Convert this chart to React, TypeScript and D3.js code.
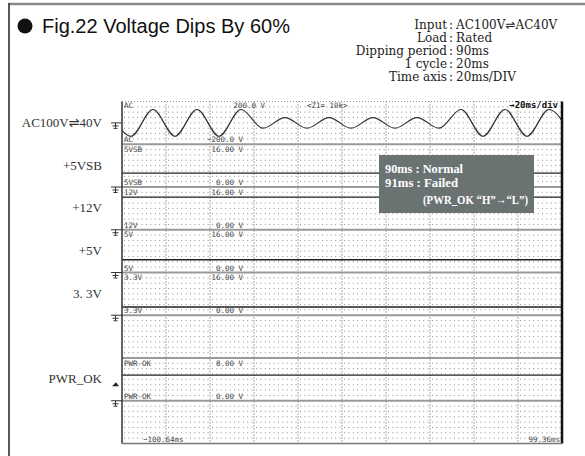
import React from "react";
import * as d3 from "d3";

const W = 585;
const H = 456;

// AC input waveform: extremes (time ms, volts)
const acTimes = [-106.55, -96.55, -86.55, -76.55, -66.55, -56.55, -46.55, -36.55, -26.55, -16.55, -6.55, 3.45, 13.45, 23.45, 33.45, 43.45, 53.45, 63.45, 73.45, 83.45, 93.45, 103.45];
const acVolts = [125, -125, 125, -125, 125, -125, 125, -50, 50, -50, 50, -50, 50, -50, 50, -50, 125, -125, 125, -125, 125, -125];

// DC channels
const dcNames = ["5VSB", "12V", "5V", "3.3V", "PWR-OK"];
const dcLevels = [5.2, 12.2, 4.8, 3.1, 4.8];
const dcFullScale = [16, 16, 16, 16, 8];
const dcDivision = [1, 2, 3, 4, 6];
const dcTopLabels = ["16.00 V", "16.00 V", "16.00 V", "16.00 V", "8.00 V"];
const dcBottomLabels = ["0.00 V", "0.00 V", "0.00 V", "0.00 V", "0.00 V"];
const triggerLevel = 3;

const sideLabels = ["AC100V\u21CC40V", "+5VSB", "+12V", "+5V", "3. 3V", "PWR_OK"];
const sideDivisions = [0, 1, 2, 3, 4, 6];

const infoKeys = ["Input", "Load", "Dipping period", "1 cycle", "Time axis"];
const infoValues = ["AC100V\u21CCAC40V", "Rated", "90ms", "20ms", "20ms/DIV"];
const noteLines = ["90ms : Normal", "91ms : Failed", "(PWR_OK \u201CH\u201D\u2192\u201CL\u201D)"];
const noteWidths = [78, 73, 105];

const timeDomain = [-100.64, 99.36];
const timeLabels = ["\u2212100.64ms", "99.36ms"];
const acRange = [-200, 200];
const acLabels = ["200.0 V", "\u2212200.0 V"];

const L = 122, R = 562, T = 101.5, B = 443.5;
const monoFont = "'DejaVu Sans Mono', monospace";
const serif = "'Liberation Serif', serif";

function Ground({ y }: { y: number }) {
  return (
    <g stroke="#333" strokeWidth={1} fill="none">
      <line x1={111} x2={L} y1={y} y2={y} />
      <line x1={115.5} x2={115.5} y1={y} y2={y + 5} />
      <line x1={112.5} x2={118.5} y1={y + 3} y2={y + 3} />
      <line x1={113.5} x2={117.5} y1={y + 5.5} y2={y + 5.5} />
    </g>
  );
}

function withHarpoon(s: string) {
  const parts = s.split("\u21CC");
  if (parts.length === 1) return s;
  return (
    <>
      {parts[0]}
      <tspan fontFamily="'DejaVu Sans', sans-serif">{"\u21CC"}</tspan>
      {parts[1]}
    </>
  );
}

export default function App() {
  const x = d3.scaleLinear().domain(timeDomain).range([L, R]);
  const yDiv = d3.scaleLinear().domain([0, 8]).range([T, B]);
  const yAC = d3.scaleLinear().domain(acRange).range([yDiv(1), yDiv(0)]);
  const dcScale = (i: number) =>
    d3.scaleLinear().domain([0, dcFullScale[i]]).range([yDiv(dcDivision[i] + 1), yDiv(dcDivision[i])]);

  const acPts = acTimes.map((t, i) => [x(t), yAC(acVolts[i])] as [number, number]);
  const acPath = d3.line().curve(d3.curveMonotoneX)(acPts) || "";

  const majorX = d3.range(1, 10).map((k) => L + ((R - L) / 10) * k);
  const rowYs: number[] = [];
  for (let k = 0; k < 8; k++) {
    for (let j = 1; j < 8; j++) rowYs.push(yDiv(k) + (yDiv(1) - yDiv(0)) * (j / 8));
  }

  return (
    <svg width={W} height={H} style={{ position: "absolute", left: 0, top: 0, background: "#fff" }}>
      <defs>
        <clipPath id="scope">
          <rect x={L} y={T} width={R - L} height={B - T} />
        </clipPath>
      </defs>
      {/* outer frame */}
      <line x1={9} x2={W} y1={4} y2={4} stroke="#8a8a8a" strokeWidth={2.5} />
      <line x1={9} x2={9} y1={3} y2={H} stroke="#222" strokeWidth={1.5} />

      {/* title */}
      <circle cx={25} cy={26} r={7.5} fill="#111" />
      <text x={42} y={33} fontFamily="'Liberation Sans', Arial, sans-serif" fontSize={20} fill="#111">
        Fig.22 Voltage Dips By 60%
      </text>

      {/* info block */}
      {infoKeys.map((k, i) => (
        <g key={k} fontFamily="'DejaVu Serif', serif" fontSize={12} fill="#222">
          <text x={447} y={28.5 + i * 13.2} textAnchor="end">{k}</text>
          <text x={451} y={28.5 + i * 13.2} textAnchor="middle">:</text>
          <text x={456} y={28.5 + i * 13.2}>{withHarpoon(infoValues[i])}</text>
        </g>
      ))}

      {/* side labels */}
      {sideLabels.map((s, i) => (
        <text key={s} x={102} y={(yDiv(sideDivisions[i]) + yDiv(sideDivisions[i] + 1)) / 2 + 4}
          textAnchor="end" fontFamily={serif} fontSize={13} fill="#333">{withHarpoon(s)}</text>
      ))}

      {/* grid dots */}
      <g clipPath="url(#scope)">
        {rowYs.map((y, i) => (
          <line key={"r" + i} x1={L + 2} x2={R} y1={y} y2={y} stroke="#8c8c8c" strokeWidth={1} strokeDasharray="1 3.4" />
        ))}
        {majorX.map((xx, i) => (
          <line key={"v" + i} x1={xx} x2={xx} y1={T} y2={B} stroke="#555" strokeWidth={1} strokeDasharray="1 2" />
        ))}
      </g>

      {/* division boundaries */}
      {d3.range(1, 8).map((k) => (
        <line key={"d" + k} x1={L} x2={R} y1={yDiv(k)} y2={yDiv(k)} stroke="#9a9a9a" strokeWidth={2} />
      ))}

      {/* DC traces */}
      {dcNames.map((n, i) => {
        const y = dcScale(i);
        return (
          <line key={n} x1={L} x2={R} y1={y(dcLevels[i])} y2={y(dcLevels[i])} stroke="#222" strokeWidth={1.4} />
        );
      })}

      {/* AC trace */}
      <path d={acPath} fill="none" stroke="#333" strokeWidth={1.2} clipPath="url(#scope)" />

      {/* scope frame */}
      <line x1={L} x2={L} y1={T} y2={B} stroke="#333" strokeWidth={1.5} />
      <line x1={R} x2={R} y1={T} y2={B} stroke="#111" strokeWidth={2.5} />
      <line x1={L} x2={R} y1={B} y2={B} stroke="#777" strokeWidth={1.5} />
      <line x1={L} x2={R} y1={T} y2={T} stroke="#777" strokeWidth={0.8} strokeDasharray="1 2" />

      {/* scope labels */}
      <g fontFamily={monoFont} fontSize={7.5} fill="#444">
        <text x={L + 2} y={yDiv(0) + 6.5}>AC</text>
        <text x={265} y={yDiv(0) + 6.5} textAnchor="end">{acLabels[0]}</text>
        <text x={307} y={yDiv(0) + 6.5}>{"<Z1= 10k>"}</text>
        <text x={L + 2} y={yDiv(1) - 2}>AC</text>
        <text x={243} y={yDiv(1) - 2} textAnchor="end">{acLabels[1]}</text>
        {dcNames.map((n, i) => (
          <g key={"lb" + n}>
            <text x={L + 2} y={yDiv(dcDivision[i]) + 7.5}>{n}</text>
            <text x={243} y={yDiv(dcDivision[i]) + 7.5} textAnchor="end">{dcTopLabels[i]}</text>
            <text x={L + 2} y={yDiv(dcDivision[i] + 1) - 2}>{n}</text>
            <text x={243} y={yDiv(dcDivision[i] + 1) - 2} textAnchor="end">{dcBottomLabels[i]}</text>
          </g>
        ))}
        <text x={143} y={B - 2}>{timeLabels[0]}</text>
        <text x={R - 2} y={B - 2} textAnchor="end">{timeLabels[1]}</text>
      </g>
      <text x={R - 4} y={yDiv(0) + 6.5} textAnchor="end" fontFamily={monoFont} fontSize={9} fontWeight="bold" fill="#111">
        {"\u219220ms/div"}
      </text>

      {/* ground markers */}
      <Ground y={yAC(0)} />
      {dcNames.map((n, i) => (
        <Ground key={"g" + n} y={dcScale(i)(0)} />
      ))}
      {/* trigger marker */}
      <path d={`M112,${dcScale(4)(triggerLevel) + 1.5} L119,${dcScale(4)(triggerLevel) + 1.5} L116,${dcScale(4)(triggerLevel) - 2.5} Z`} fill="#222" />

      {/* note box */}
      <rect x={379} y={155} width={155} height={58} fill="#6b7272" />
      <g fontFamily={serif} fontSize={12.5} fontWeight="bold" fill="#fff">
        <text x={385} y={173} textLength={noteWidths[0]} lengthAdjust="spacingAndGlyphs">{noteLines[0]}</text>
        <text x={385} y={187} textLength={noteWidths[1]} lengthAdjust="spacingAndGlyphs">{noteLines[1]}</text>
        <text x={423} y={204} textLength={noteWidths[2]} lengthAdjust="spacingAndGlyphs">{noteLines[2]}</text>
      </g>
    </svg>
  );
}
